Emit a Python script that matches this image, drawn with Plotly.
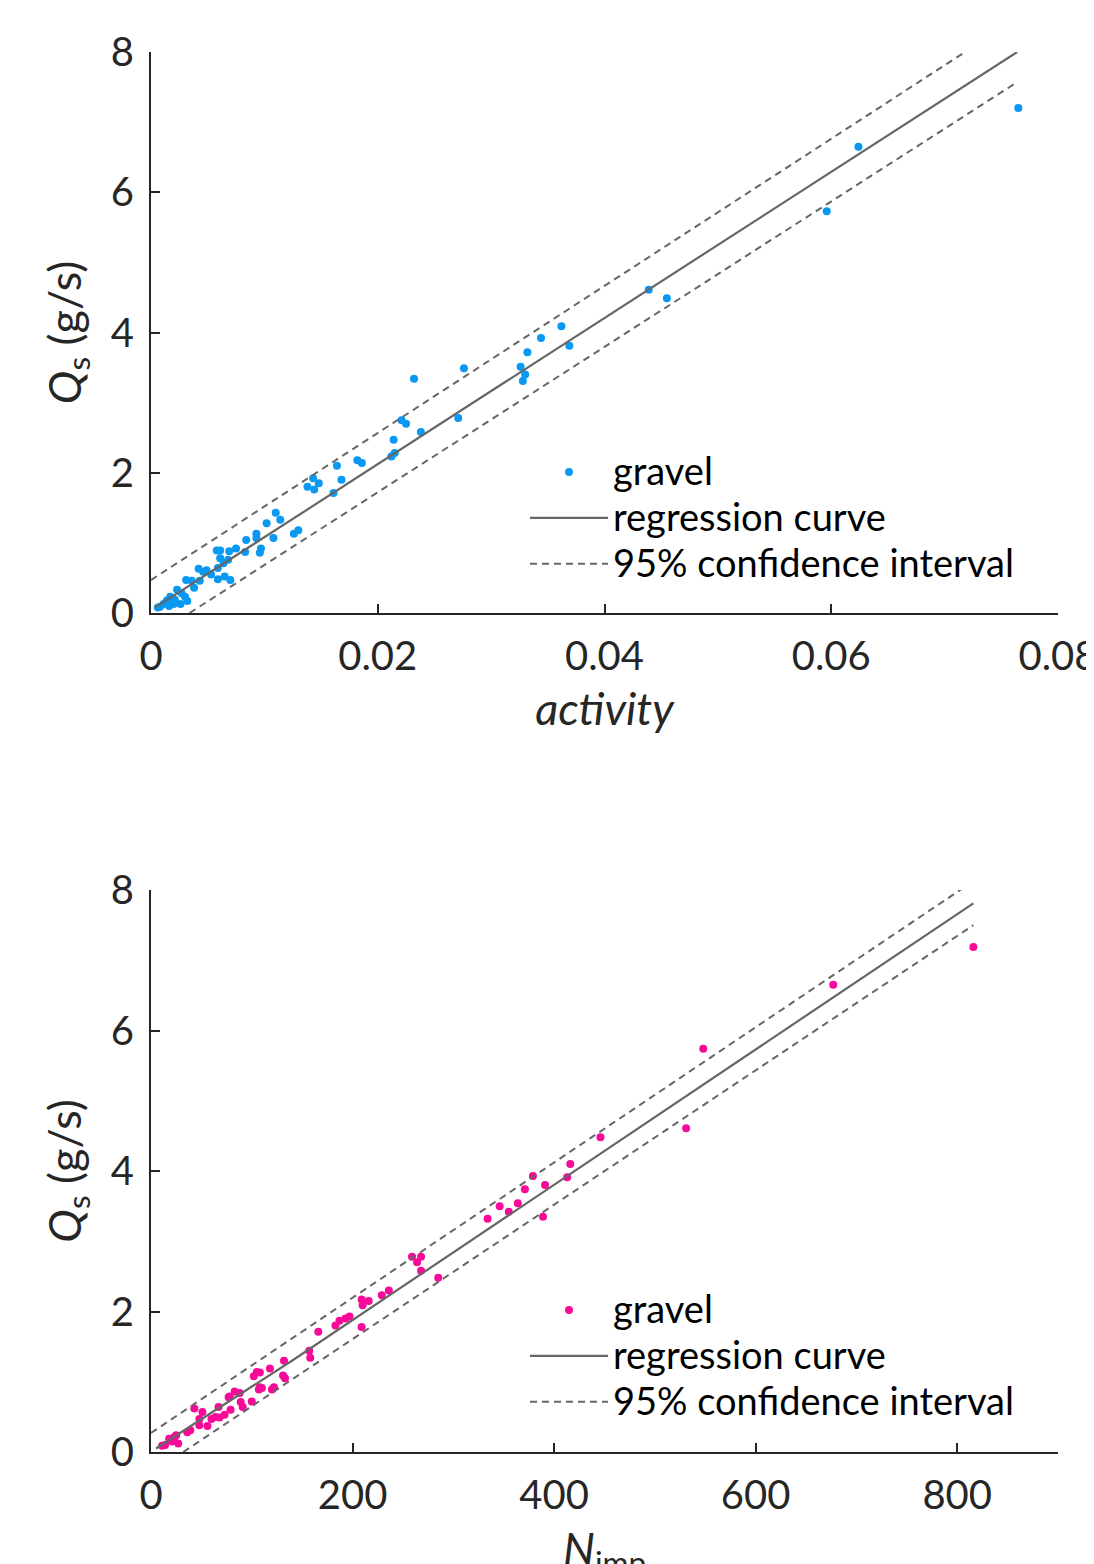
import plotly.graph_objects as go

# ---------------- data: top panel (activity) ----------------
act_x = [0.0765, 0.0624, 0.0596, 0.0439, 0.0455, 0.0362, 0.0344, 0.0332, 0.0369, 0.0326,
         0.0330, 0.0328, 0.0276, 0.0232, 0.0271, 0.0221, 0.0225, 0.0238, 0.0214, 0.0215,
         0.0212, 0.0164, 0.0182, 0.0186, 0.0168, 0.0161, 0.0143, 0.0138, 0.0144, 0.0148,
         0.0110, 0.0114, 0.0102, 0.0126, 0.0130, 0.0108, 0.0093, 0.0093, 0.0084, 0.0097,
         0.0096, 0.0083, 0.0075, 0.0069, 0.0058, 0.0061, 0.0061, 0.0068, 0.0064, 0.0059,
         0.0049, 0.0042, 0.0053, 0.0046, 0.0059, 0.0065, 0.0070, 0.0031, 0.0036, 0.0043,
         0.0038, 0.0023, 0.0027, 0.0017, 0.0030, 0.0032, 0.0026, 0.0021, 0.0014, 0.0016,
         0.0011, 0.0006, 0.0008, 0.0020]
act_q = [7.20, 6.65, 5.73, 4.61, 4.49, 4.09, 3.92, 3.72, 3.81, 3.51,
         3.40, 3.31, 3.49, 3.34, 2.78, 2.75, 2.70, 2.58, 2.47, 2.28,
         2.23, 2.10, 2.18, 2.14, 1.90, 1.71, 1.92, 1.80, 1.76, 1.85,
         1.43, 1.33, 1.28, 1.13, 1.18, 1.07, 1.13, 1.07, 1.04, 0.92,
         0.86, 0.87, 0.92, 0.88, 0.89, 0.89, 0.78, 0.76, 0.71, 0.64,
         0.61, 0.63, 0.55, 0.59, 0.48, 0.52, 0.47, 0.47, 0.46, 0.46,
         0.36, 0.33, 0.28, 0.23, 0.23, 0.17, 0.13, 0.19, 0.18, 0.10,
         0.13, 0.08, 0.09, 0.13]

act_fit_x = [0.0004, 0.0126, 0.0281, 0.0764]
act_fit_y = [0.08, 1.35, 2.97, 8.00]
act_up_x = [0.0, 0.0718]
act_up_y = [0.47, 8.00]
act_lo_x = [0.0034, 0.0764]
act_lo_y = [0.0, 7.57]

act_ticks = [0, 0.02, 0.04, 0.06, 0.08]
act_ticktext = ["0", "0.02", "0.04", "0.06", "0.08"]

# ---------------- data: bottom panel (N_imp) ----------------
nimp_x = [816, 677, 548, 531, 446, 416, 413, 391, 379, 371,
          364, 355, 346, 334, 389, 285, 259, 264, 268, 268,
          236, 229, 209, 210, 216, 209, 197, 193, 187, 183,
          166, 157, 158, 132, 131, 133, 118, 122, 120, 108,
          105, 102, 108, 110, 107, 100, 91, 89, 83, 78,
          77, 88, 79, 73, 67, 68, 64, 60, 56, 51,
          48, 48, 43, 39, 36, 25, 23, 27, 18, 14,
          11, 21]
nimp_q = [7.19, 6.65, 5.74, 4.61, 4.48, 4.10, 3.91, 3.80, 3.93, 3.74,
          3.54, 3.42, 3.50, 3.32, 3.35, 2.48, 2.78, 2.70, 2.78, 2.58,
          2.30, 2.23, 2.17, 2.09, 2.15, 1.78, 1.93, 1.90, 1.87, 1.80,
          1.71, 1.44, 1.34, 1.30, 1.09, 1.05, 1.19, 0.92, 0.89, 1.13,
          1.14, 1.08, 0.92, 0.91, 0.89, 0.72, 0.64, 0.71, 0.86, 0.79,
          0.78, 0.84, 0.60, 0.53, 0.64, 0.49, 0.50, 0.47, 0.37, 0.57,
          0.47, 0.38, 0.62, 0.31, 0.28, 0.24, 0.21, 0.12, 0.19, 0.10,
          0.09, 0.15]

nimp_fit_x = [5, 141, 816]
nimp_fit_y = [0.05, 1.31, 7.81]
nimp_up_x = [0, 806]
nimp_up_y = [0.27, 8.03]
nimp_lo_x = [32, 816]
nimp_lo_y = [0.0, 7.50]

nimp_ticks = [0, 200, 400, 600, 800]
nimp_ticktext = ["0", "200", "400", "600", "800"]

q_ticks = [0, 2, 4, 6, 8]
q_ticktext = ["0", "2", "4", "6", "8"]

legend_names = ["gravel", "regression curve", "95% confidence interval"]

# ---------------- styling ----------------
BLUE = "#0A99F2"
PINK = "#F70A98"
GREY = "#666666"
AX = "#262626"
FONT = "Lato"
LEG_TXT = 38  # visible legend text size (px)


def leg(name):
    return '<span style="font-size:%dpx">%s</span>' % (LEG_TXT, name)


fig = go.Figure()


def add_panel(xs, ys, color, fx, fy, ux, uy, lx, ly, xa, ya, legend):
    fig.add_trace(go.Scatter(x=xs, y=ys, mode="markers", name=leg(legend_names[0]),
                             marker=dict(color=color, size=8, line=dict(width=0)),
                             xaxis=xa, yaxis=ya, legend=legend, cliponaxis=False))
    fig.add_trace(go.Scatter(x=fx, y=fy, mode="lines", name=leg(legend_names[1]),
                             line=dict(color=GREY, width=2.2),
                             xaxis=xa, yaxis=ya, legend=legend))
    fig.add_trace(go.Scatter(x=ux, y=uy, mode="lines", name=leg(legend_names[2]),
                             line=dict(color=GREY, width=2, dash="7px,5px"),
                             legendgroup="ci" + legend,
                             xaxis=xa, yaxis=ya, legend=legend, cliponaxis=False))
    fig.add_trace(go.Scatter(x=lx, y=ly, mode="lines", name=leg(legend_names[2]),
                             line=dict(color=GREY, width=2, dash="7px,5px"),
                             legendgroup="ci" + legend, showlegend=False,
                             xaxis=xa, yaxis=ya, legend=legend))


add_panel(act_x, act_q, BLUE, act_fit_x, act_fit_y, act_up_x, act_up_y,
          act_lo_x, act_lo_y, "x", "y", "legend")
add_panel(nimp_x, nimp_q, PINK, nimp_fit_x, nimp_fit_y, nimp_up_x, nimp_up_y,
          nimp_lo_x, nimp_lo_y, "x2", "y2", "legend2")

# page body has an 8px margin; figure is sized so the page fits the window
OFF = 8
W, H = 1094 - OFF, 1564 - OFF
L, R, T, B = 151 - OFF, 36, 52 - OFF, 112
PW, PH = W - L - R, H - T - B


def px_x(p):  # screen pixel -> paper x
    return (p - 151) / PW


def px_y(p):  # screen pixel -> paper y
    return (1452 - p) / PH


tickfont = dict(family=FONT, size=40, color=AX)
titlefont = dict(family=FONT, size=45, color=AX)

common_axis = dict(showgrid=False, zeroline=False, showline=True, linecolor=AX,
                   linewidth=2, ticks="inside", ticklen=9, tickwidth=2,
                   tickcolor=AX, tickfont=tickfont, mirror=False,
                   automargin=False, ticklabeloverflow="allow")

legend_common = dict(font=dict(family=FONT, size=33, color="black"),
                     bgcolor="rgba(0,0,0,0)", borderwidth=0,
                     xanchor="left", yanchor="top", itemwidth=78,
                     tracegroupgap=0, itemclick=False, itemdoubleclick=False)

fig.update_layout(
    width=W, height=H,
    paper_bgcolor="white", plot_bgcolor="white",
    margin=dict(l=L, r=R, t=T, b=B),
    showlegend=True,
    xaxis=dict(common_axis, domain=[0, 1], range=[0, 0.08],
               tickvals=act_ticks, ticktext=act_ticktext, anchor="y",
               ticklabelstandoff=7,
               title=dict(text="<i>activity</i>", font=titlefont)),
    yaxis=dict(common_axis, domain=[px_y(613), px_y(52)], range=[0, 8],
               tickvals=q_ticks, ticktext=q_ticktext, anchor="x",
               ticklabelstandoff=7,
               title=dict(text="<i>Q</i><sub>s</sub> (g/s)", font=titlefont)),
    xaxis2=dict(common_axis, domain=[0, 1], range=[0, 900],
                tickvals=nimp_ticks, ticktext=nimp_ticktext, anchor="y2",
                ticklabelstandoff=7),
    yaxis2=dict(common_axis, domain=[px_y(1452), px_y(890)], range=[0, 8],
                tickvals=q_ticks, ticktext=q_ticktext, anchor="x2",
                ticklabelstandoff=7,
                title=dict(text="<i>Q</i><sub>s</sub> (g/s)", font=titlefont)),
    legend=dict(legend_common, x=px_x(525), y=px_y(444)),
    legend2=dict(legend_common, x=px_x(525), y=px_y(1282)),
    annotations=[dict(text="<i>N</i><sub>imp</sub>", font=titlefont,
                      xref="paper", yref="paper", x=0.5, y=px_y(1519),
                      xanchor="center", yanchor="top", showarrow=False)],
)

fig.write_html("out.html")
